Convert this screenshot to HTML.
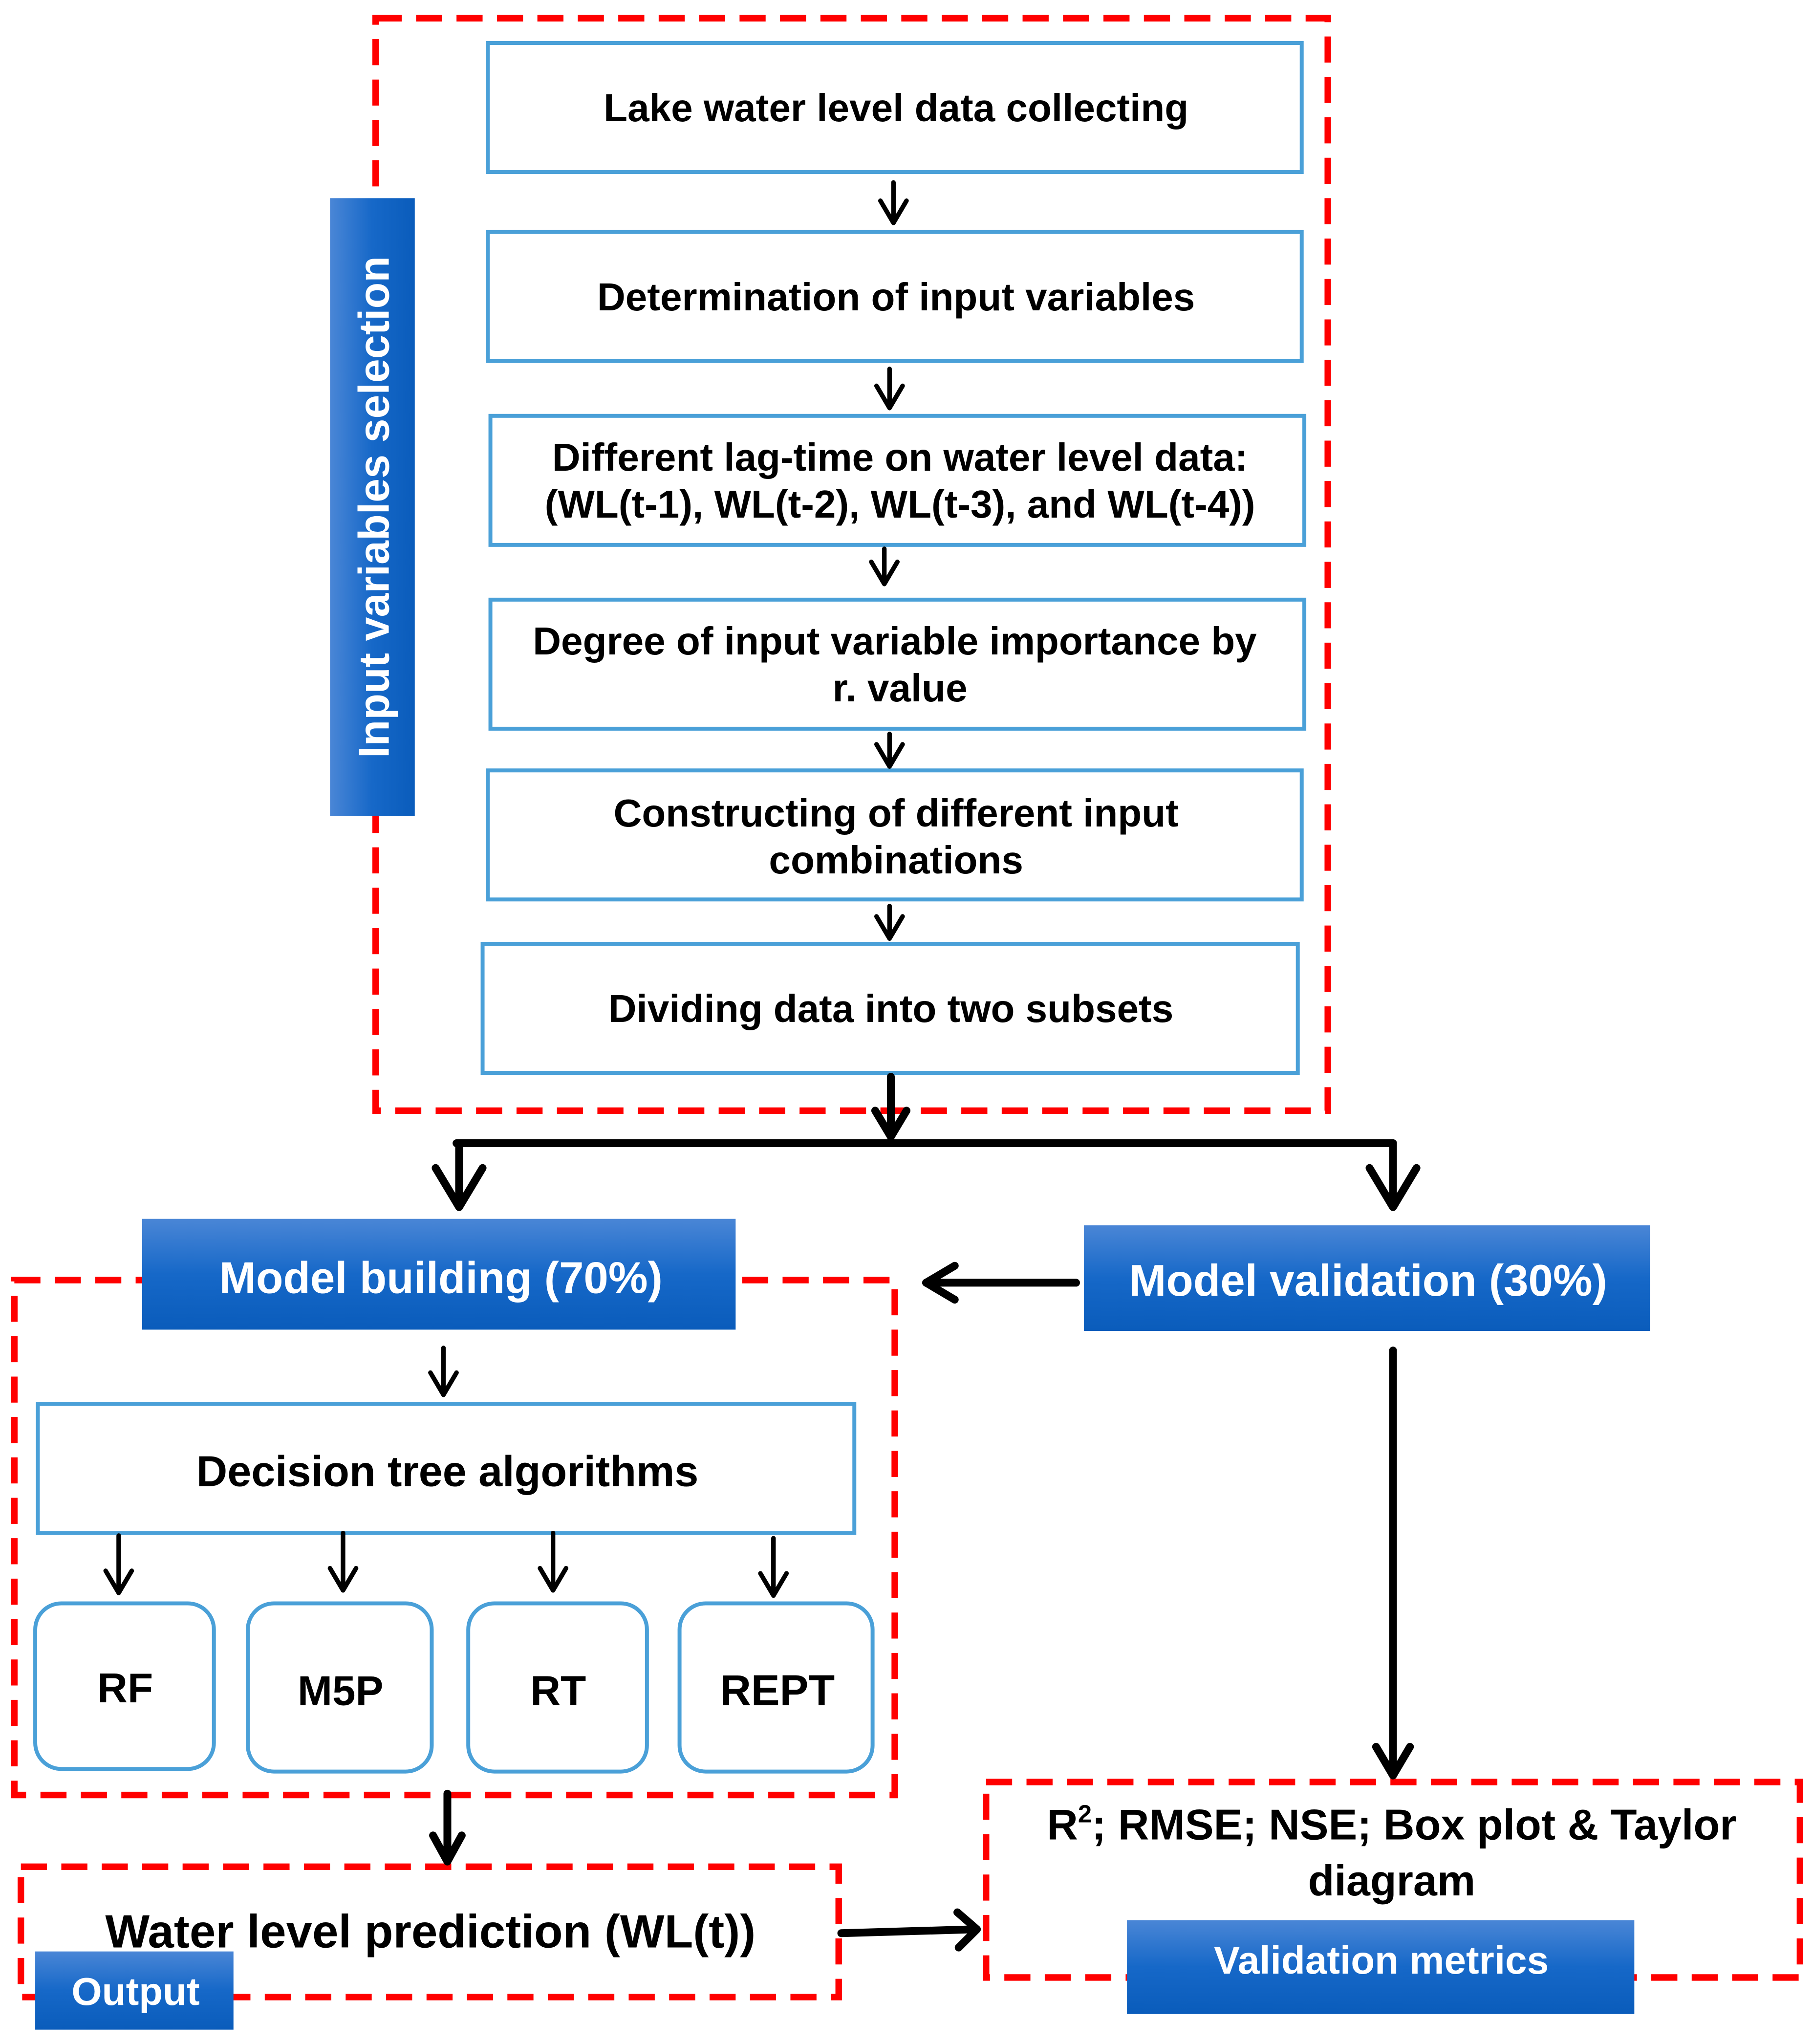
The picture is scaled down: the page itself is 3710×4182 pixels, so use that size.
<!DOCTYPE html>
<html><head><meta charset="utf-8"><style>html,body{margin:0;padding:0;background:#fff}svg{display:block}</style></head>
<body>
<svg width="3710" height="4182" viewBox="0 0 1390 1568" preserveAspectRatio="none" xmlns="http://www.w3.org/2000/svg" font-family="Liberation Sans, Arial, sans-serif" font-weight="bold">
<defs>
<linearGradient id="bl" x1="0" y1="0" x2="0" y2="1"><stop offset="0" stop-color="#4a86d6"/><stop offset="0.5" stop-color="#1668c8"/><stop offset="1" stop-color="#0a5cbb"/></linearGradient>
<linearGradient id="blh" x1="0" y1="0" x2="1" y2="0"><stop offset="0" stop-color="#4a86d6"/><stop offset="0.5" stop-color="#1668c8"/><stop offset="1" stop-color="#0a5cbb"/></linearGradient>
</defs>
<g fill="none" stroke="#f00" stroke-width="5" stroke-dasharray="20,11">
<rect x="288" y="14" width="730" height="838"/>
<rect x="11" y="982" width="675" height="395"/>
<rect x="16" y="1432" width="627" height="100"/>
<rect x="756" y="1367" width="624" height="150"/>
</g>
<g fill="#fff" stroke="#4aa0d8" stroke-width="3">
<rect x="374" y="33" width="624" height="99"/>
<rect x="374" y="178" width="624" height="99"/>
<rect x="376" y="319" width="624" height="99"/>
<rect x="376" y="460" width="624" height="99"/>
<rect x="374" y="591" width="624" height="99"/>
<rect x="370" y="724" width="625" height="99"/>
<rect x="29" y="1077" width="626" height="99"/>
<rect x="27" y="1230" width="137" height="127" rx="20"/>
<rect x="190" y="1230" width="141" height="129" rx="20"/>
<rect x="359" y="1230" width="137" height="129" rx="20"/>
<rect x="521" y="1230" width="148" height="129" rx="20"/>
</g>
<rect x="253" y="152" width="65" height="474" fill="url(#blh)"/>
<rect x="109" y="935" width="455" height="85" fill="url(#bl)"/>
<rect x="831" y="940" width="434" height="81" fill="url(#bl)"/>
<rect x="27" y="1497" width="152" height="60" fill="url(#bl)"/>
<rect x="864" y="1473" width="389" height="72" fill="url(#bl)"/>
<g stroke="#000" stroke-width="3.5" fill="none" stroke-linecap="round" stroke-linejoin="round">
<path d="M685 140 V171 M675 154 L685 171 L695 154"/>
<path d="M682 283 V313 M672 296 L682 313 L692 296"/>
<path d="M678 421 V448 M668 431 L678 448 L688 431"/>
<path d="M682 563 V588 M672 571 L682 588 L692 571"/>
<path d="M682 695 V720 M672 703 L682 720 L692 703"/>
<path d="M340 1034 V1070 M330 1053 L340 1070 L350 1053"/>
<path d="M91 1178 V1222 M81 1205 L91 1222 L101 1205"/>
<path d="M263 1176 V1220 M253 1203 L263 1220 L273 1203"/>
<path d="M424 1176 V1220 M414 1203 L424 1220 L434 1203"/>
<path d="M593 1180 V1224 M583 1207 L593 1224 L603 1207"/>
</g>
<g stroke="#000" stroke-width="6" fill="none" stroke-linecap="round" stroke-linejoin="round">
<path d="M683 826 V872"/><path d="M671 852 L683 872 L695 852"/>
<path d="M350 877 H1068"/>
<path d="M352 877 V926"/><path d="M334 896 L352 926 L370 896"/>
<path d="M1068 877 V926"/><path d="M1050 896 L1068 926 L1086 896"/>
<path d="M825 984 H710"/><path d="M732 971 L710 984 L732 997"/>
<path d="M1068 1036 V1362"/><path d="M1055 1340 L1068 1362 L1081 1340"/>
<path d="M343 1376 V1428"/><path d="M332 1408 L343 1428 L354 1408"/>
<path d="M645 1483 L748 1480"/><path d="M734 1467 L749 1480 L735 1494"/>
</g>
<g fill="#000" font-size="30" text-anchor="middle">
<text x="687" y="93">Lake water level data collecting</text>
<text x="687" y="238">Determination of input variables</text>
<text x="690" y="361">Different lag-time on water level data:</text>
<text x="690" y="397">(WL(t-1), WL(t-2), WL(t-3), and WL(t-4))</text>
<text x="686" y="502">Degree of input variable importance by</text>
<text x="690" y="538">r. value</text>
<text x="687" y="634">Constructing of different input</text>
<text x="687" y="670">combinations</text>
<text x="683" y="784">Dividing data into two subsets</text>
<text x="343" y="1140" font-size="33">Decision tree algorithms</text>
<text x="96" y="1306" font-size="32">RF</text>
<text x="261" y="1308" font-size="32">M5P</text>
<text x="428" y="1308" font-size="32">RT</text>
<text x="596" y="1308" font-size="33">REPT</text>
<text x="330" y="1494" font-size="36">Water level prediction (WL(t))</text>
<text x="1067" y="1411" font-size="33">R<tspan font-size="19" dy="-13">2</tspan><tspan dy="13">; RMSE; NSE; Box plot &amp; Taylor</tspan></text>
<text x="1067" y="1454" font-size="33">diagram</text>
</g>
<g fill="#fff" text-anchor="middle">
<text x="338" y="992" font-size="34">Model building (70%)</text>
<text x="1049" y="994" font-size="34">Model validation (30%)</text>
<text x="104" y="1538" font-size="30">Output</text>
<text x="1059" y="1514" font-size="30">Validation metrics</text>
<text transform="translate(298,389) rotate(-90)" font-size="33">Input variables selection</text>
</g>
</svg>
</body></html>
